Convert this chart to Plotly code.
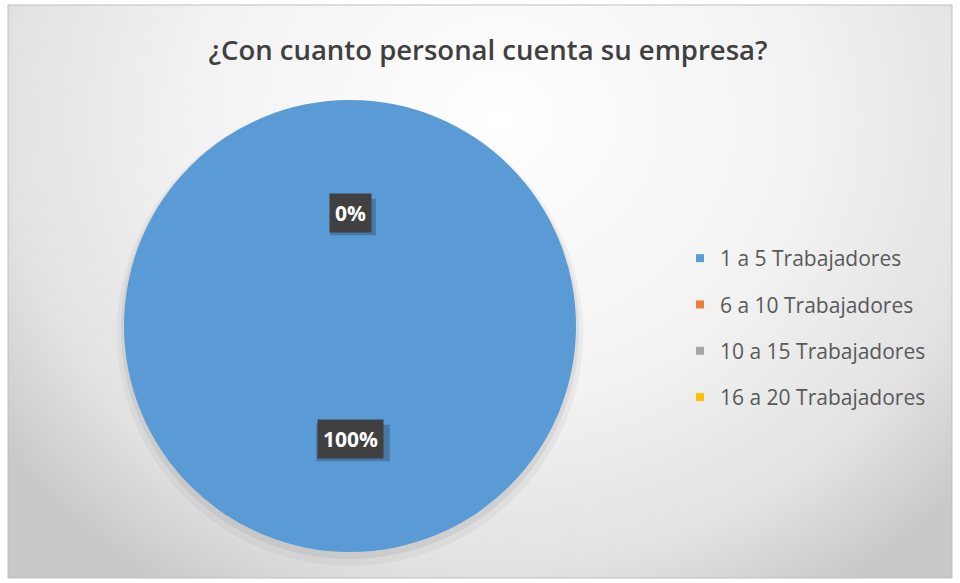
import math
import plotly.graph_objects as go

categories = ["1 a 5 Trabajadores", "6 a 10 Trabajadores", "10 a 15 Trabajadores", "16 a 20 Trabajadores"]
values = [100, 0, 0, 0]
colors = ["#5B9BD5", "#ED7D31", "#A5A5A5", "#FFC000"]
title_text = "¿Con cuanto personal cuenta su empresa?"

W, H = 960, 583
FONT = "Open Sans"

# chart box (pixels)
BX0, BX1, BY0, BY1 = 8, 952, 5, 578
# pie geometry (pixels)
cx, cy, r = 350, 326, 226


def px2x(p):
    return p / W


def px2y(p):
    return 1 - p / H


fig = go.Figure()

# gradient background (ellipse centred near top middle, clipped to chart box)
gcx, gcy, ga, gb = 500, 120, 620, 560
fig.add_trace(go.Scatter(
    x=[gcx - ga, gcx + ga, gcx + ga, gcx - ga, gcx - ga],
    y=[gcy - gb, gcy - gb, gcy + gb, gcy + gb, gcy - gb],
    mode="lines", line=dict(width=0), fill="toself",
    fillgradient=dict(type="radial", colorscale=[[0, "#ffffff"], [0.5, "#f2f2f2"], [0.8, "#e2e2e2"], [1, "#c8c8c8"]]),
    hoverinfo="skip", showlegend=False,
))

# soft shadow layers under the pie
for grow, dy, alpha in [(7, 7, 0.04), (3, 4, 0.06)]:
    fig.add_trace(go.Pie(
        values=[1], labels=["shadow"], marker=dict(colors=[f"rgba(0,0,0,{alpha})"]),
        domain=dict(x=[px2x(cx - r - grow), px2x(cx + r + grow)],
                    y=[px2y(cy + dy + r + grow), px2y(cy + dy - r - grow)]),
        textinfo="none", hoverinfo="skip", showlegend=False, sort=False,
    ))

fig.add_trace(go.Pie(
    labels=categories, values=values, marker=dict(colors=colors, line=dict(width=0)),
    domain=dict(x=[px2x(cx - r), px2x(cx + r)], y=[px2y(cy + r), px2y(cy - r)]),
    sort=False, direction="clockwise", rotation=0,
    textinfo="none", showlegend=False,
))

# legend entries
for cat, col in zip(categories, colors):
    fig.add_trace(go.Scatter(
        x=[None], y=[None], mode="markers", name=cat, legendgroup=cat,
        marker=dict(symbol="square", size=8, color=col),
    ))

# data labels (Excel style, at half radius on slice mid-angle)
LABEL_SIZE = 21
total = sum(values)
cum = 0
seen = set()
for v in values:
    mid = (cum + v / 2) / total * 2 * math.pi
    cum += v
    pct = f"{round(v / total * 100)}%"
    lx = cx + 0.5 * r * math.sin(mid)
    ly = cy - 0.5 * r * math.cos(mid)
    key = (round(lx), round(ly))
    if key in seen:
        continue
    seen.add(key)
    # drop shadow box behind the label
    bw = len(pct) * LABEL_SIZE * 0.66 + 18
    bh = LABEL_SIZE * 1.36 + 8
    fig.add_shape(type="rect", xref="paper", yref="paper", layer="above",
                  x0=px2x(lx - bw / 2 + 3), x1=px2x(lx + bw / 2 + 3),
                  y0=px2y(ly + bh / 2 + 4), y1=px2y(ly - bh / 2 + 4),
                  fillcolor="rgba(0,0,0,0.22)", line=dict(width=0))
    fig.add_annotation(
        x=px2x(lx), y=px2y(ly), xref="paper", yref="paper", xanchor="center", yanchor="middle",
        text=f"<b>{pct}</b>", showarrow=False,
        font=dict(family=FONT, size=LABEL_SIZE, color="white"),
        bgcolor="#404040", borderpad=5,
    )

# chart border
fig.add_shape(type="rect", xref="paper", yref="paper",
              x0=px2x(BX0), x1=px2x(BX1), y0=px2y(BY1), y1=px2y(BY0),
              line=dict(color="#bdbdbd", width=1), layer="above")

fig.update_layout(
    width=W, height=H, margin=dict(l=0, r=0, t=0, b=0),
    paper_bgcolor="white", plot_bgcolor="rgba(0,0,0,0)",
    xaxis=dict(range=[BX0, BX1], visible=False, domain=[px2x(BX0), px2x(BX1)], fixedrange=True),
    yaxis=dict(range=[BY1, BY0], visible=False, domain=[px2y(BY1), px2y(BY0)], fixedrange=True),
    title=dict(text=title_text, x=px2x(488), xanchor="center", y=px2y(50), yanchor="middle",
               font=dict(family=FONT, size=27.5, color="#404040", weight=600)),
    legend=dict(x=px2x(680), y=px2y(238), xanchor="left", yanchor="top", tracegroupgap=16,
                font=dict(family=FONT, size=21, color="#595959"), bgcolor="rgba(0,0,0,0)",
                itemclick=False, itemdoubleclick=False),
    showlegend=True,
)

fig.write_html("out.html", config={"displayModeBar": False},
               post_script="document.body.style.margin='0';")
